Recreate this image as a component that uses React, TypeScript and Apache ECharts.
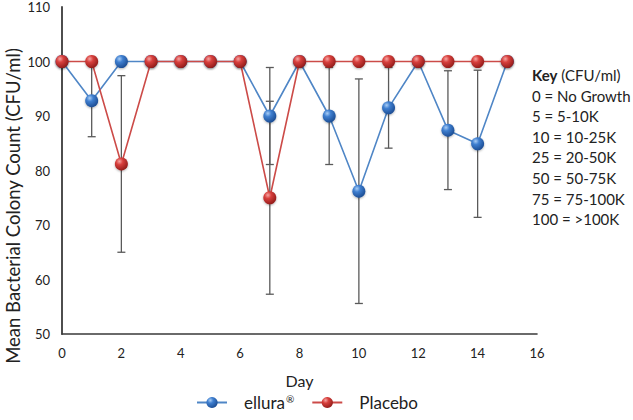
import React, { useEffect, useRef } from "react";
import * as echarts from "echarts";

const days = [0, 1, 2, 3, 4, 5, 6, 7, 8, 9, 10, 11, 12, 13, 14, 15];
const ellura = [100, 92.8, 100, 100, 100, 100, 100, 90, 100, 90, 76.2, 91.5, 100, 87.4, 84.9, 100];
const elluraErr = [0, 6.6, 0, 0, 0, 0, 0, 8.9, 0, 8.9, 20.6, 7.4, 0, 10.9, 13.5, 0];
const placebo = [100, 100, 81.2, 100, 100, 100, 100, 75, 100, 100, 100, 100, 100, 100, 100, 100];
const placeboErr = [0, 0, 16.2, 0, 0, 0, 0, 17.7, 0, 0, 0, 0, 0, 0, 0, 0];
const keyLines = ["0 = No Growth", "5 = 5-10K", "10 = 10-25K", "25 = 20-50K", "50 = 50-75K", "75 = 75-100K", "100 = >100K"];

const FONT = "Lato";

const blueGrad = new echarts.graphic.RadialGradient(0.35, 0.3, 0.75, [
  { offset: 0, color: "#a9cdf5" },
  { offset: 0.35, color: "#3f7fd0" },
  { offset: 1, color: "#1a4a90" },
]);
const redGrad = new echarts.graphic.RadialGradient(0.35, 0.3, 0.75, [
  { offset: 0, color: "#f5a5a3" },
  { offset: 0.35, color: "#d8403d" },
  { offset: 1, color: "#8f1a18" },
]);

function errData(means: number[], errs: number[]) {
  const out: number[][] = [];
  days.forEach((d, i) => {
    if (errs[i] > 0) out.push([d, means[i] - errs[i], means[i] + errs[i]]);
  });
  return out;
}

function errRender(params: any, api: any) {
  const x = api.value(0);
  const lo = api.coord([x, api.value(1)]);
  const hi = api.coord([x, api.value(2)]);
  const hw = 4;
  const style = { stroke: "#5a5a5a", lineWidth: 1.3 };
  return {
    type: "group",
    children: [
      { type: "line", shape: { x1: lo[0], y1: lo[1], x2: hi[0], y2: hi[1] }, style },
      { type: "line", shape: { x1: lo[0] - hw, y1: lo[1], x2: lo[0] + hw, y2: lo[1] }, style },
      { type: "line", shape: { x1: hi[0] - hw, y1: hi[1], x2: hi[0] + hw, y2: hi[1] }, style },
    ],
  };
}

export default function App() {
  const ref = useRef<HTMLDivElement>(null);
  useEffect(() => {
    const chart = echarts.init(ref.current!, null, { renderer: "svg" });
    chart.setOption({
      animation: false,
      textStyle: { fontFamily: FONT },
      grid: { left: 62, right: 96, top: 7, bottom: 86, outerBoundsMode: "none", containLabel: false },
      xAxis: {
        type: "value",
        min: 0,
        max: 16,
        interval: 2,
        name: "Day",
        nameLocation: "middle",
        nameGap: 38,
        nameTextStyle: { fontSize: 16, color: "#222", fontFamily: FONT },
        axisLine: { lineStyle: { color: "#3a3a3a", width: 1.6 } },
        axisTick: { show: false },
        splitLine: { show: false },
        axisLabel: { fontSize: 13, color: "#222", margin: 12, fontFamily: FONT },
      },
      yAxis: {
        type: "value",
        min: 50,
        max: 110,
        interval: 10,
        axisLine: { show: true, lineStyle: { color: "#3a3a3a", width: 1.8 } },
        axisTick: { show: false },
        splitLine: { show: false },
        axisLabel: { fontSize: 13, color: "#222", margin: 12, fontFamily: FONT },
      },
      legend: {
        bottom: 4,
        left: 191,
        itemWidth: 30,
        itemHeight: 14,
        itemGap: 17,
        formatter: (name: string) => (name === "ellura®" ? "ellura{s|®}" : name),
        textStyle: {
          fontSize: 17,
          color: "#222",
          fontFamily: FONT,
          padding: [0, 0, 0, 12],
          rich: { s: { fontSize: 10, fontFamily: FONT, color: "#222", padding: [0, 0, 8, 1] } },
        },
        data: ["ellura®", "Placebo"],
      },
      graphic: [
        {
          type: "text",
          x: 13,
          y: 206,
          rotation: Math.PI / 2,
          style: {
            text: "Mean Bacterial Colony Count (CFU/ml)",
            fontSize: 18.5,
            fontFamily: FONT,
            fill: "#222",
            align: "center",
            verticalAlign: "middle",
          },
        },
        {
          type: "text",
          left: 532,
          top: 67,
          style: {
            text: "{b|Key} (CFU/ml)",
            rich: {
              b: { fontWeight: "bold", fontSize: 15, fontFamily: FONT, fill: "#222" },
            },
            fontSize: 15,
            fontFamily: FONT,
            fill: "#222",
          },
        },
        ...keyLines.map((t, i) => ({
          type: "text",
          left: 532,
          top: 88 + i * 20.6,
          style: { text: t, fontSize: 15, fontFamily: FONT, fill: "#222" },
        })),
      ],
      series: [
        {
          type: "custom",
          name: "ellura err",
          renderItem: errRender,
          data: errData(ellura, elluraErr),
          z: 1,
          silent: true,
        },
        {
          type: "custom",
          name: "placebo err",
          renderItem: errRender,
          data: errData(placebo, placeboErr),
          z: 1,
          silent: true,
        },
        {
          type: "line",
          name: "ellura®",
          data: days.map((d, i) => [d, ellura[i]]),
          symbol: "circle",
          symbolSize: 13,
          lineStyle: { color: "#4f86c6", width: 1.6 },
          itemStyle: { color: blueGrad, shadowBlur: 2, shadowColor: "rgba(0,0,0,0.3)", shadowOffsetY: 1 },
          z: 3,
        },
        {
          type: "line",
          name: "Placebo",
          data: days.map((d, i) => [d, placebo[i]]),
          symbol: "circle",
          symbolSize: 13,
          lineStyle: { color: "#cc4b48", width: 1.6 },
          itemStyle: { color: redGrad, shadowBlur: 2, shadowColor: "rgba(0,0,0,0.3)", shadowOffsetY: 1 },
          z: 4,
        },
      ],
    });
    return () => chart.dispose();
  }, []);
  return (
    <div
      ref={ref}
      style={{ position: "fixed", left: 0, top: 0, width: 633, height: 420, background: "#fff" }}
    />
  );
}
